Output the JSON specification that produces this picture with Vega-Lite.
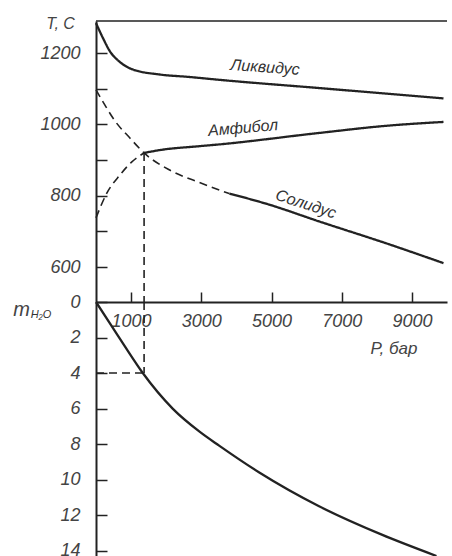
{
  "$schema": "https://vega.github.io/schema/vega-lite/v6.json",
  "autosize": {"type": "none"},
  "padding": {"left": 96, "top": 21, "right": 5, "bottom": 0},
  "width": 351,
  "height": 535,
  "background": "white",
  "config": {
    "view": {"stroke": null},
    "axis": {
      "grid": false,
      "labelFont": "Liberation Sans",
      "labelFontStyle": "italic",
      "labelFontSize": 18,
      "labelColor": "#444",
      "domainColor": "#222",
      "domainWidth": 2,
      "tickColor": "#222",
      "tickWidth": 1.5,
      "titleFont": "Liberation Sans",
      "titleFontStyle": "italic",
      "titleFontWeight": "normal",
      "titleColor": "#444"
    },
    "text": {"font": "Liberation Sans", "fontStyle": "italic", "color": "#333"}
  },
  "datasets": {
    "curves": [
      {"curve": "Ликвидус", "part": "stable", "P": 0, "T": 1284},
      {"curve": "Ликвидус", "part": "stable", "P": 199, "T": 1242},
      {"curve": "Ликвидус", "part": "stable", "P": 397, "T": 1205},
      {"curve": "Ликвидус", "part": "stable", "P": 681, "T": 1175},
      {"curve": "Ликвидус", "part": "stable", "P": 1050, "T": 1154},
      {"curve": "Ликвидус", "part": "stable", "P": 1816, "T": 1140},
      {"curve": "Ликвидус", "part": "stable", "P": 2667, "T": 1133},
      {"curve": "Ликвидус", "part": "stable", "P": 3518, "T": 1125},
      {"curve": "Ликвидус", "part": "stable", "P": 6355, "T": 1102},
      {"curve": "Ликвидус", "part": "stable", "P": 9900, "T": 1073},
      {"curve": "Амфибол", "part": "metastable", "P": 0, "T": 738},
      {"curve": "Амфибол", "part": "metastable", "P": 312, "T": 808},
      {"curve": "Амфибол", "part": "metastable", "P": 681, "T": 858},
      {"curve": "Амфибол", "part": "metastable", "P": 1021, "T": 895},
      {"curve": "Амфибол", "part": "metastable", "P": 1370, "T": 920},
      {"curve": "Амфибол", "part": "stable", "P": 1370, "T": 920},
      {"curve": "Амфибол", "part": "stable", "P": 1816, "T": 928},
      {"curve": "Амфибол", "part": "stable", "P": 2950, "T": 939},
      {"curve": "Амфибол", "part": "stable", "P": 3518, "T": 944},
      {"curve": "Амфибол", "part": "stable", "P": 6355, "T": 976},
      {"curve": "Амфибол", "part": "stable", "P": 8255, "T": 996},
      {"curve": "Амфибол", "part": "stable", "P": 9900, "T": 1007},
      {"curve": "Солидус", "part": "metastable", "P": 0, "T": 1097},
      {"curve": "Солидус", "part": "metastable", "P": 255, "T": 1054},
      {"curve": "Солидус", "part": "metastable", "P": 539, "T": 1010},
      {"curve": "Солидус", "part": "metastable", "P": 965, "T": 962},
      {"curve": "Солидус", "part": "metastable", "P": 1370, "T": 920},
      {"curve": "Солидус", "part": "metastable", "P": 2099, "T": 872},
      {"curve": "Солидус", "part": "metastable", "P": 2950, "T": 837},
      {"curve": "Солидус", "part": "metastable", "P": 3801, "T": 806},
      {"curve": "Солидус", "part": "stable", "P": 3801, "T": 806},
      {"curve": "Солидус", "part": "stable", "P": 4936, "T": 775},
      {"curve": "Солидус", "part": "stable", "P": 6355, "T": 728},
      {"curve": "Солидус", "part": "stable", "P": 8255, "T": 667},
      {"curve": "Солидус", "part": "stable", "P": 9900, "T": 611}
    ],
    "water": [
      {"P": 0, "m": 0},
      {"P": 397, "m": 1.2},
      {"P": 823, "m": 2.5},
      {"P": 1333, "m": 4.0},
      {"P": 2184, "m": 6.0},
      {"P": 2950, "m": 7.3},
      {"P": 3518, "m": 8.1},
      {"P": 4652, "m": 9.6},
      {"P": 6355, "m": 11.5},
      {"P": 8142, "m": 13.1},
      {"P": 9700, "m": 14.3}
    ]
  },
  "resolve": {"scale": {"y": "independent"}, "axis": {"y": "independent"}},
  "layer": [
    {
      "layer": [
        {
          "data": {"name": "curves"},
          "mark": {"type": "line", "color": "#222", "strokeCap": "butt", "interpolate": "monotone"},
          "encoding": {
            "x": {
              "field": "P", "type": "quantitative",
              "scale": {"domain": [0, 10000], "nice": false, "zero": false},
              "axis": {
                "orient": "bottom",
                "offset": -254,
                "values": [1000, 3000, 5000, 7000, 9000],
                "format": "d",
                "tickSize": -10,
                "labelPadding": 20,
                "labelBaseline": "top",
                "labelFlush": false,
                "labelOverlap": false,
                "title": "P, бар",
                "titleFontSize": 17,
                "titleAnchor": "start",
                "titleAlign": "right",
                "titleX": 321,
                "titleY": 46,
                "titleBaseline": "middle"
              }
            },
            "y": {
              "field": "T", "type": "quantitative",
              "scale": {"domain": [502, 1290], "range": [281, 0], "nice": false, "zero": false},
              "axis": {
                "orient": "left",
                "values": [600, 700, 800, 900, 1000, 1100, 1200],
                "labelExpr": "datum.value % 200 == 0 ? datum.label : ''",
                "format": "d",
                "tickSize": -11,
                "labelPadding": 27,
                "title": "T, C",
                "titleFontSize": 16,
                "titleAngle": 0,
                "titleAlign": "center",
                "titleBaseline": "middle",
                "titleX": -36,
                "titleY": 2
              }
            },
            "detail": [{"field": "curve"}, {"field": "part"}],
            "strokeDash": {
              "field": "part", "type": "nominal",
              "scale": {"domain": ["stable", "metastable"], "range": [[1, 0], [8, 5]]},
              "legend": null
            },
            "strokeWidth": {
              "field": "part", "type": "nominal",
              "scale": {"domain": ["stable", "metastable"], "range": [2.3, 1.6]},
              "legend": null
            }
          }
        },
        {
          "data": {"values": [{}]},
          "mark": {"type": "rule", "color": "#222", "strokeWidth": 1.3},
          "encoding": {"y": {"datum": 1290}, "x": {"datum": 0}, "x2": {"datum": 10000}}
        },
        {
          "data": {"values": [{}]},
          "mark": {"type": "rule", "color": "#222", "strokeWidth": 1.6, "strokeDash": [8, 5]},
          "encoding": {"x": {"datum": 1370}, "y": {"datum": 920}, "y2": {"datum": 502}}
        },
        {
          "data": {"values": [{}]},
          "mark": {"type": "text", "fontSize": 16, "angle": 4},
          "encoding": {"x": {"datum": 4815}, "y": {"datum": 1160}, "text": {"value": "Ликвидус"}}
        },
        {
          "data": {"values": [{}]},
          "mark": {"type": "text", "fontSize": 16, "angle": -5},
          "encoding": {"x": {"datum": 4190}, "y": {"datum": 990}, "text": {"value": "Амфибол"}}
        },
        {
          "data": {"values": [{}]},
          "mark": {"type": "text", "fontSize": 16, "angle": 18},
          "encoding": {"x": {"datum": 5980}, "y": {"datum": 776}, "text": {"value": "Солидус"}}
        }
      ]
    },
    {
      "layer": [
        {
          "data": {"name": "water"},
          "mark": {"type": "line", "color": "#222", "strokeWidth": 2.3, "interpolate": "monotone"},
          "encoding": {
            "x": {"field": "P", "type": "quantitative"},
            "y": {
              "field": "m", "type": "quantitative",
              "scale": {"domain": [0, 14.3], "range": [281, 535], "nice": false, "zero": false},
              "axis": {
                "orient": "left",
                "values": [0, 2, 4, 6, 8, 10, 12, 14],
                "tickSize": -11,
                "labelPadding": 27,
                "title": "m",
                "titleFontSize": 20,
                "titleAngle": 0,
                "titleAlign": "center",
                "titleBaseline": "alphabetic",
                "titleX": -75,
                "titleY": 294
              }
            }
          }
        },
        {
          "data": {"values": [{}]},
          "mark": {"type": "rule", "color": "#222", "strokeWidth": 1.6, "strokeDash": [8, 5]},
          "encoding": {"x": {"datum": 1370}, "y": {"datum": 0}, "y2": {"datum": 4}}
        },
        {
          "data": {"values": [{}]},
          "mark": {"type": "rule", "color": "#222", "strokeWidth": 1.6, "strokeDash": [8, 5]},
          "encoding": {"x": {"datum": 0}, "x2": {"datum": 1370}, "y": {"datum": 4}}
        },
        {
          "data": {"values": [{}]},
          "mark": {"type": "text", "fontSize": 11, "baseline": "middle"},
          "encoding": {"x": {"datum": -1567}, "y": {"datum": 0.75}, "text": {"value": "H₂O"}}
        }
      ]
    }
  ]
}
